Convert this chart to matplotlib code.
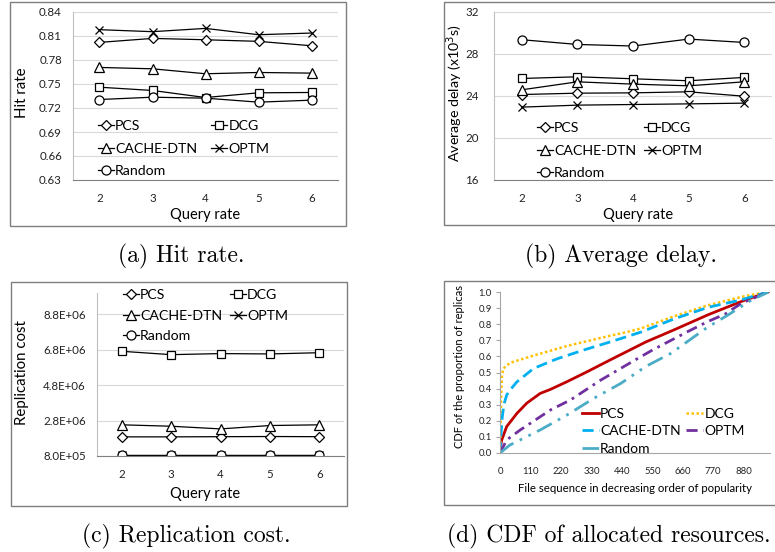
import matplotlib.pyplot as plt
from matplotlib.patches import Rectangle

plt.rcParams['font.family'] = ['Lato', 'DejaVu Sans']

W, H = 775, 552

# shared x values and series names
query_rate = [2, 3, 4, 5, 6]

# (a) hit rate
hit_pcs = [0.802, 0.807, 0.8053, 0.8033, 0.7978]
hit_dcg = [0.746, 0.7419, 0.7331, 0.739, 0.7394]
hit_cache = [0.7707, 0.769, 0.7628, 0.7644, 0.7636]
hit_optm = [0.8179, 0.8154, 0.8195, 0.8116, 0.8137]
hit_random = [0.7306, 0.7335, 0.7323, 0.7273, 0.7298]

# (b) average delay (x10^3 s)
delay_pcs = [24.14, 24.27, 24.30, 24.40, 23.98]
delay_dcg = [25.67, 25.83, 25.64, 25.45, 25.77]
delay_cache = [24.59, 25.35, 25.13, 24.97, 25.35]
delay_optm = [22.94, 23.13, 23.19, 23.25, 23.32]
delay_random = [29.36, 28.91, 28.76, 29.42, 29.10]

# (c) replication cost
cost_pcs = [1.88e6, 1.88e6, 1.89e6, 1.90e6, 1.89e6]
cost_dcg = [6.71e6, 6.52e6, 6.58e6, 6.56e6, 6.63e6]
cost_cache = [2.56e6, 2.48e6, 2.33e6, 2.52e6, 2.56e6]
cost_optm = [8.7e5, 8.7e5, 8.7e5, 8.7e5, 8.7e5]
cost_random = [8.5e5, 8.5e5, 8.5e5, 8.5e5, 8.5e5]
cost_ticks = [8.0e5, 2.8e6, 4.8e6, 6.8e6, 8.8e6]
cost_ticklabels = ['8.0E+05', '2.8E+06', '4.8E+06', '6.8E+06', '8.8E+06']

# (d) CDF of replicas vs file rank
pcs_x = [0, 2, 6, 24, 61, 97, 145, 182, 242, 315, 400, 527, 630, 752, 873, 968]
pcs_y = [0, 0.04, 0.08, 0.164, 0.246, 0.31, 0.37, 0.395, 0.443, 0.505, 0.58, 0.69, 0.766, 0.859, 0.942, 1.0]
dcg_x = [0, 2, 4, 7, 12, 36, 121, 242, 364, 460, 509, 630, 752, 873, 962]
dcg_y = [0, 0.15, 0.35, 0.48, 0.525, 0.56, 0.605, 0.665, 0.715, 0.752, 0.774, 0.85, 0.918, 0.97, 1.0]
cache_x = [0, 3, 8, 14, 24, 36, 60, 121, 206, 303, 400, 509, 630, 752, 873, 966]
cache_y = [0, 0.1, 0.22, 0.3, 0.36, 0.39, 0.44, 0.525, 0.585, 0.64, 0.691, 0.751, 0.834, 0.905, 0.952, 1.0]
optm_x = [0, 24, 73, 182, 255, 364, 485, 551, 679, 751, 812, 872, 968]
optm_y = [0, 0.081, 0.143, 0.267, 0.33, 0.453, 0.575, 0.64, 0.755, 0.817, 0.862, 0.93, 1.0]
rand_x = [0, 36, 145, 242, 339, 436, 527, 618, 745, 824, 909, 970]
rand_y = [0, 0.05, 0.143, 0.236, 0.34, 0.432, 0.538, 0.62, 0.776, 0.858, 0.951, 1.0]
file_ticks = [0, 110, 220, 330, 440, 550, 660, 770, 880]


def px_rect(l, t, r, b):
    return [l / W, 1 - b / H, (r - l) / W, (b - t) / H]


def fpt(x, y):
    return (x / W, 1 - y / H)


fig = plt.figure(figsize=(W / 100, H / 100), dpi=100)

# chart frames
for l, t, r, b in [(10, 2, 346, 226), (444, 2, 780, 225), (11, 282, 347, 506), (444, 281, 780, 505)]:
    fig.patches.append(Rectangle(fpt(l, b), (r - l) / W, (b - t) / H, transform=fig.transFigure,
                                 fill=False, edgecolor='#7f7f7f', lw=1.0))

styles = {'PCS': ('D', 5), 'DCG': ('s', 6), 'CACHE-DTN': ('^', 7), 'OPTM': ('x', 6), 'Random': ('o', 6.5)}


def line_panel(rect, series, ylim, yticks, yticklabels, ylabel, ylab_xy, xlab_xy, leg_xy, colsp, ypad,
               ylab_size=10.8, lspace=0.75):
    ax = fig.add_axes(px_rect(*rect))
    lines = {}
    for name, vals in series:
        m, ms = styles[name]
        lines[name], = ax.plot(query_rate, vals, color='black', lw=0.9, marker=m, ms=ms,
                               mfc='white', mec='black', mew=0.9, label=name)
    ax.set_xlim(1.5, 6.5)
    ax.set_ylim(*ylim)
    ax.set_xticks(query_rate)
    ax.set_yticks(yticks)
    ax.set_yticklabels(yticklabels)
    ax.tick_params(length=0, labelsize=8.3, colors='#222222')
    ax.tick_params(axis='x', pad=9)
    ax.tick_params(axis='y', pad=ypad)
    ax.grid(axis='y', color='#d9d9d9', lw=0.8)
    ax.set_axisbelow(True)
    for s in ['top', 'right']:
        ax.spines[s].set_visible(False)
    ax.spines['left'].set_color('#bfbfbf')
    ax.spines['bottom'].set_color('#808080')
    ax.set_xlabel('Query rate', fontsize=10.5, va='center')
    ax.xaxis.set_label_coords(*fpt(*xlab_xy), transform=fig.transFigure)
    ax.set_ylabel(ylabel, fontsize=ylab_size, va='center')
    ax.yaxis.set_label_coords(*fpt(*ylab_xy), transform=fig.transFigure)
    order = ['PCS', 'CACHE-DTN', 'Random', 'DCG', 'OPTM']
    ax.legend([lines[k] for k in order], order, ncol=2, loc='upper left',
              bbox_to_anchor=fpt(*leg_xy), bbox_transform=fig.transFigure,
              frameon=False, fontsize=10.2, handlelength=1.1, handletextpad=0.1,
              columnspacing=colsp, labelspacing=lspace, borderpad=0, borderaxespad=0)
    return ax


line_panel((73, 12, 338, 180),
           [('PCS', hit_pcs), ('DCG', hit_dcg), ('CACHE-DTN', hit_cache), ('OPTM', hit_optm), ('Random', hit_random)],
           (0.63, 0.84), [0.63, 0.66, 0.69, 0.72, 0.75, 0.78, 0.81, 0.84],
           ['0.63', '0.66', '0.69', '0.72', '0.75', '0.78', '0.81', '0.84'],
           'Hit rate', (22, 93), (205, 215), (98, 120), 1.0, 8)

line_panel((494, 12, 772, 180),
           [('PCS', delay_pcs), ('DCG', delay_dcg), ('CACHE-DTN', delay_cache), ('OPTM', delay_optm), ('Random', delay_random)],
           (16, 32), [16, 20, 24, 28, 32], ['16', '20', '24', '28', '32'],
           'Average delay (x10$^{3}$s)', (455, 93), (638, 215), (537, 122), 0.55, 11, ylab_size=10.3)

line_panel((97, 293, 344, 456),
           [('PCS', cost_pcs), ('DCG', cost_dcg), ('CACHE-DTN', cost_cache), ('OPTM', cost_optm), ('Random', cost_random)],
           (8.0e5, 1.0e7), cost_ticks, cost_ticklabels,
           'Replication cost', (22, 373), (205, 494), (123, 289), 0.55, 8, lspace=0.6)

# (d) CDF panel
ax = fig.add_axes(px_rect(500, 292, 770, 453))
ax.plot(pcs_x, pcs_y, color='#c00000', lw=2, label='PCS')
ax.plot(dcg_x, dcg_y, color='#ffc000', lw=1.8, ls=(0, (1, 1)), label='DCG')
ax.plot(cache_x, cache_y, color='#00b0f0', lw=2, ls=(0, (4, 2)), label='CACHE-DTN')
ax.plot(optm_x, optm_y, color='#7030a0', lw=2, ls=(0, (4, 2, 1, 2)), label='OPTM')
ax.plot(rand_x, rand_y, color='#4bacc6', lw=2, ls=(0, (6, 2.5, 1, 2.5, 1, 2.5)), label='Random')
ax.set_xlim(0, 975)
ax.set_ylim(0, 1.0)
ax.set_xticks(file_ticks)
ax.set_yticks([i / 10 for i in range(11)])
ax.set_yticklabels(['%.1f' % (i / 10) for i in range(11)])
ax.tick_params(axis='x', length=0, pad=10, labelsize=6.8, colors='#222222')
ax.tick_params(axis='y', length=3, width=0.8, pad=3, labelsize=6.8, colors='#222222')
ax.tick_params(axis='y', color='#a6a6a6')
for s in ['top', 'right']:
    ax.spines[s].set_visible(False)
ax.spines['left'].set_color('#a6a6a6')
ax.spines['bottom'].set_color('#a6a6a6')
ax.set_xlabel('File sequence in decreasing order of popularity', fontsize=8.2, va='center')
ax.xaxis.set_label_coords(*fpt(635, 489), transform=fig.transFigure)
ax.set_ylabel('CDF of the proportion of replicas', fontsize=8, va='center')
ax.yaxis.set_label_coords(*fpt(460, 367), transform=fig.transFigure)
h, l = ax.get_legend_handles_labels()
idx = [0, 2, 4, 1, 3]
ax.legend([h[i] for i in idx], [l[i] for i in idx], ncol=2, loc='upper left',
          bbox_to_anchor=fpt(582, 408), bbox_transform=fig.transFigure,
          frameon=False, fontsize=10, handlelength=1.2, handletextpad=0.1,
          columnspacing=0.4, labelspacing=0.38, borderpad=0, borderaxespad=0)

# captions
cap = dict(family='cmr10', fontsize=17, ha='center', va='center')
fig.text(*fpt(181, 256), '(a) Hit rate.', **cap)
fig.text(*fpt(621, 256), '(b) Average delay.', **cap)
fig.text(*fpt(186, 536), '(c) Replication cost.', **cap)
fig.text(*fpt(609, 536), '(d) CDF of allocated resources.', **cap)

fig.savefig('out.png', dpi=100)
